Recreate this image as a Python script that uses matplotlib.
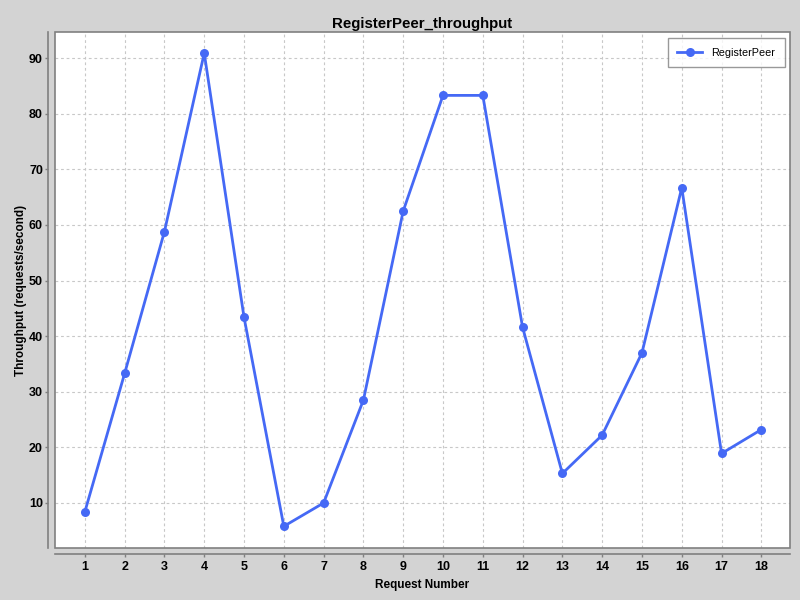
import matplotlib.pyplot as plt
from matplotlib.patches import Rectangle

# data
requests = list(range(1, 19))
throughput = [8.4, 33.3, 58.8, 90.9, 43.4, 5.8, 10.0, 28.5, 62.5,
              83.3, 83.3, 41.6, 15.3, 22.2, 37.0, 66.7, 18.9, 23.2]
y_ticks = [10, 20, 30, 40, 50, 60, 70, 80, 90]
series_name = "RegisterPeer"
title = "RegisterPeer_throughput"

plt.rcParams['font.family'] = ['Liberation Sans', 'DejaVu Sans']

bg = '#d3d3d3'
edge = '#808080'
blue = '#4569f5'

fig = plt.figure(figsize=(8, 6), dpi=100, facecolor=bg)
ax = fig.add_axes([55/800, 1 - 548/600, 735/800, 516/600])
ax.set_facecolor('white')

ax.plot(requests, throughput, color=blue, linewidth=2, marker='o',
        markersize=6.5, markeredgewidth=0, label=series_name, zorder=3)

ax.set_xlim(0.25, 18.72)
ax.set_ylim(1.9, 94.7)
ax.set_xticks(requests)
ax.set_yticks(y_ticks)

ax.grid(True, color='#c8c8c8', linestyle=(0, (2.5, 2.5)), linewidth=0.8)

# axis lines sit a little apart from the plot outline
for side in ['top', 'right']:
    ax.spines[side].set_visible(False)
ax.spines['left'].set_position(('outward', 5))
ax.spines['bottom'].set_position(('outward', 4))
for side in ['left', 'bottom']:
    ax.spines[side].set_color(edge)
    ax.spines[side].set_linewidth(1.2)
ax.add_patch(Rectangle((0, 0), 1, 1, transform=ax.transAxes, fill=False,
                       edgecolor=edge, linewidth=1.2, clip_on=False, zorder=4))

ax.tick_params(axis='both', colors=edge, length=2.5, width=1,
               labelcolor='black', labelsize=9)
ax.tick_params(axis='y', pad=1.2)
ax.tick_params(axis='x', pad=3)
for lbl in ax.get_xticklabels() + ax.get_yticklabels():
    lbl.set_fontweight('bold')

ax.set_title(title, fontsize=10.8, fontweight='bold', pad=3)
ax.set_xlabel("Request Number", fontsize=8.5, fontweight='bold', labelpad=4)
ax.set_ylabel("Throughput (requests/second)", fontsize=8.5,
              fontweight='bold', labelpad=1.5)

leg = ax.legend(loc='upper right', fontsize=7.8, frameon=True, fancybox=False,
                edgecolor=edge, borderpad=0.9, handlelength=2.3,
                handletextpad=0.85, borderaxespad=0,
                bbox_to_anchor=(0.9932, 0.9884))
leg.get_frame().set_linewidth(1.0)

fig.savefig('out.png', dpi=100, facecolor=bg)
